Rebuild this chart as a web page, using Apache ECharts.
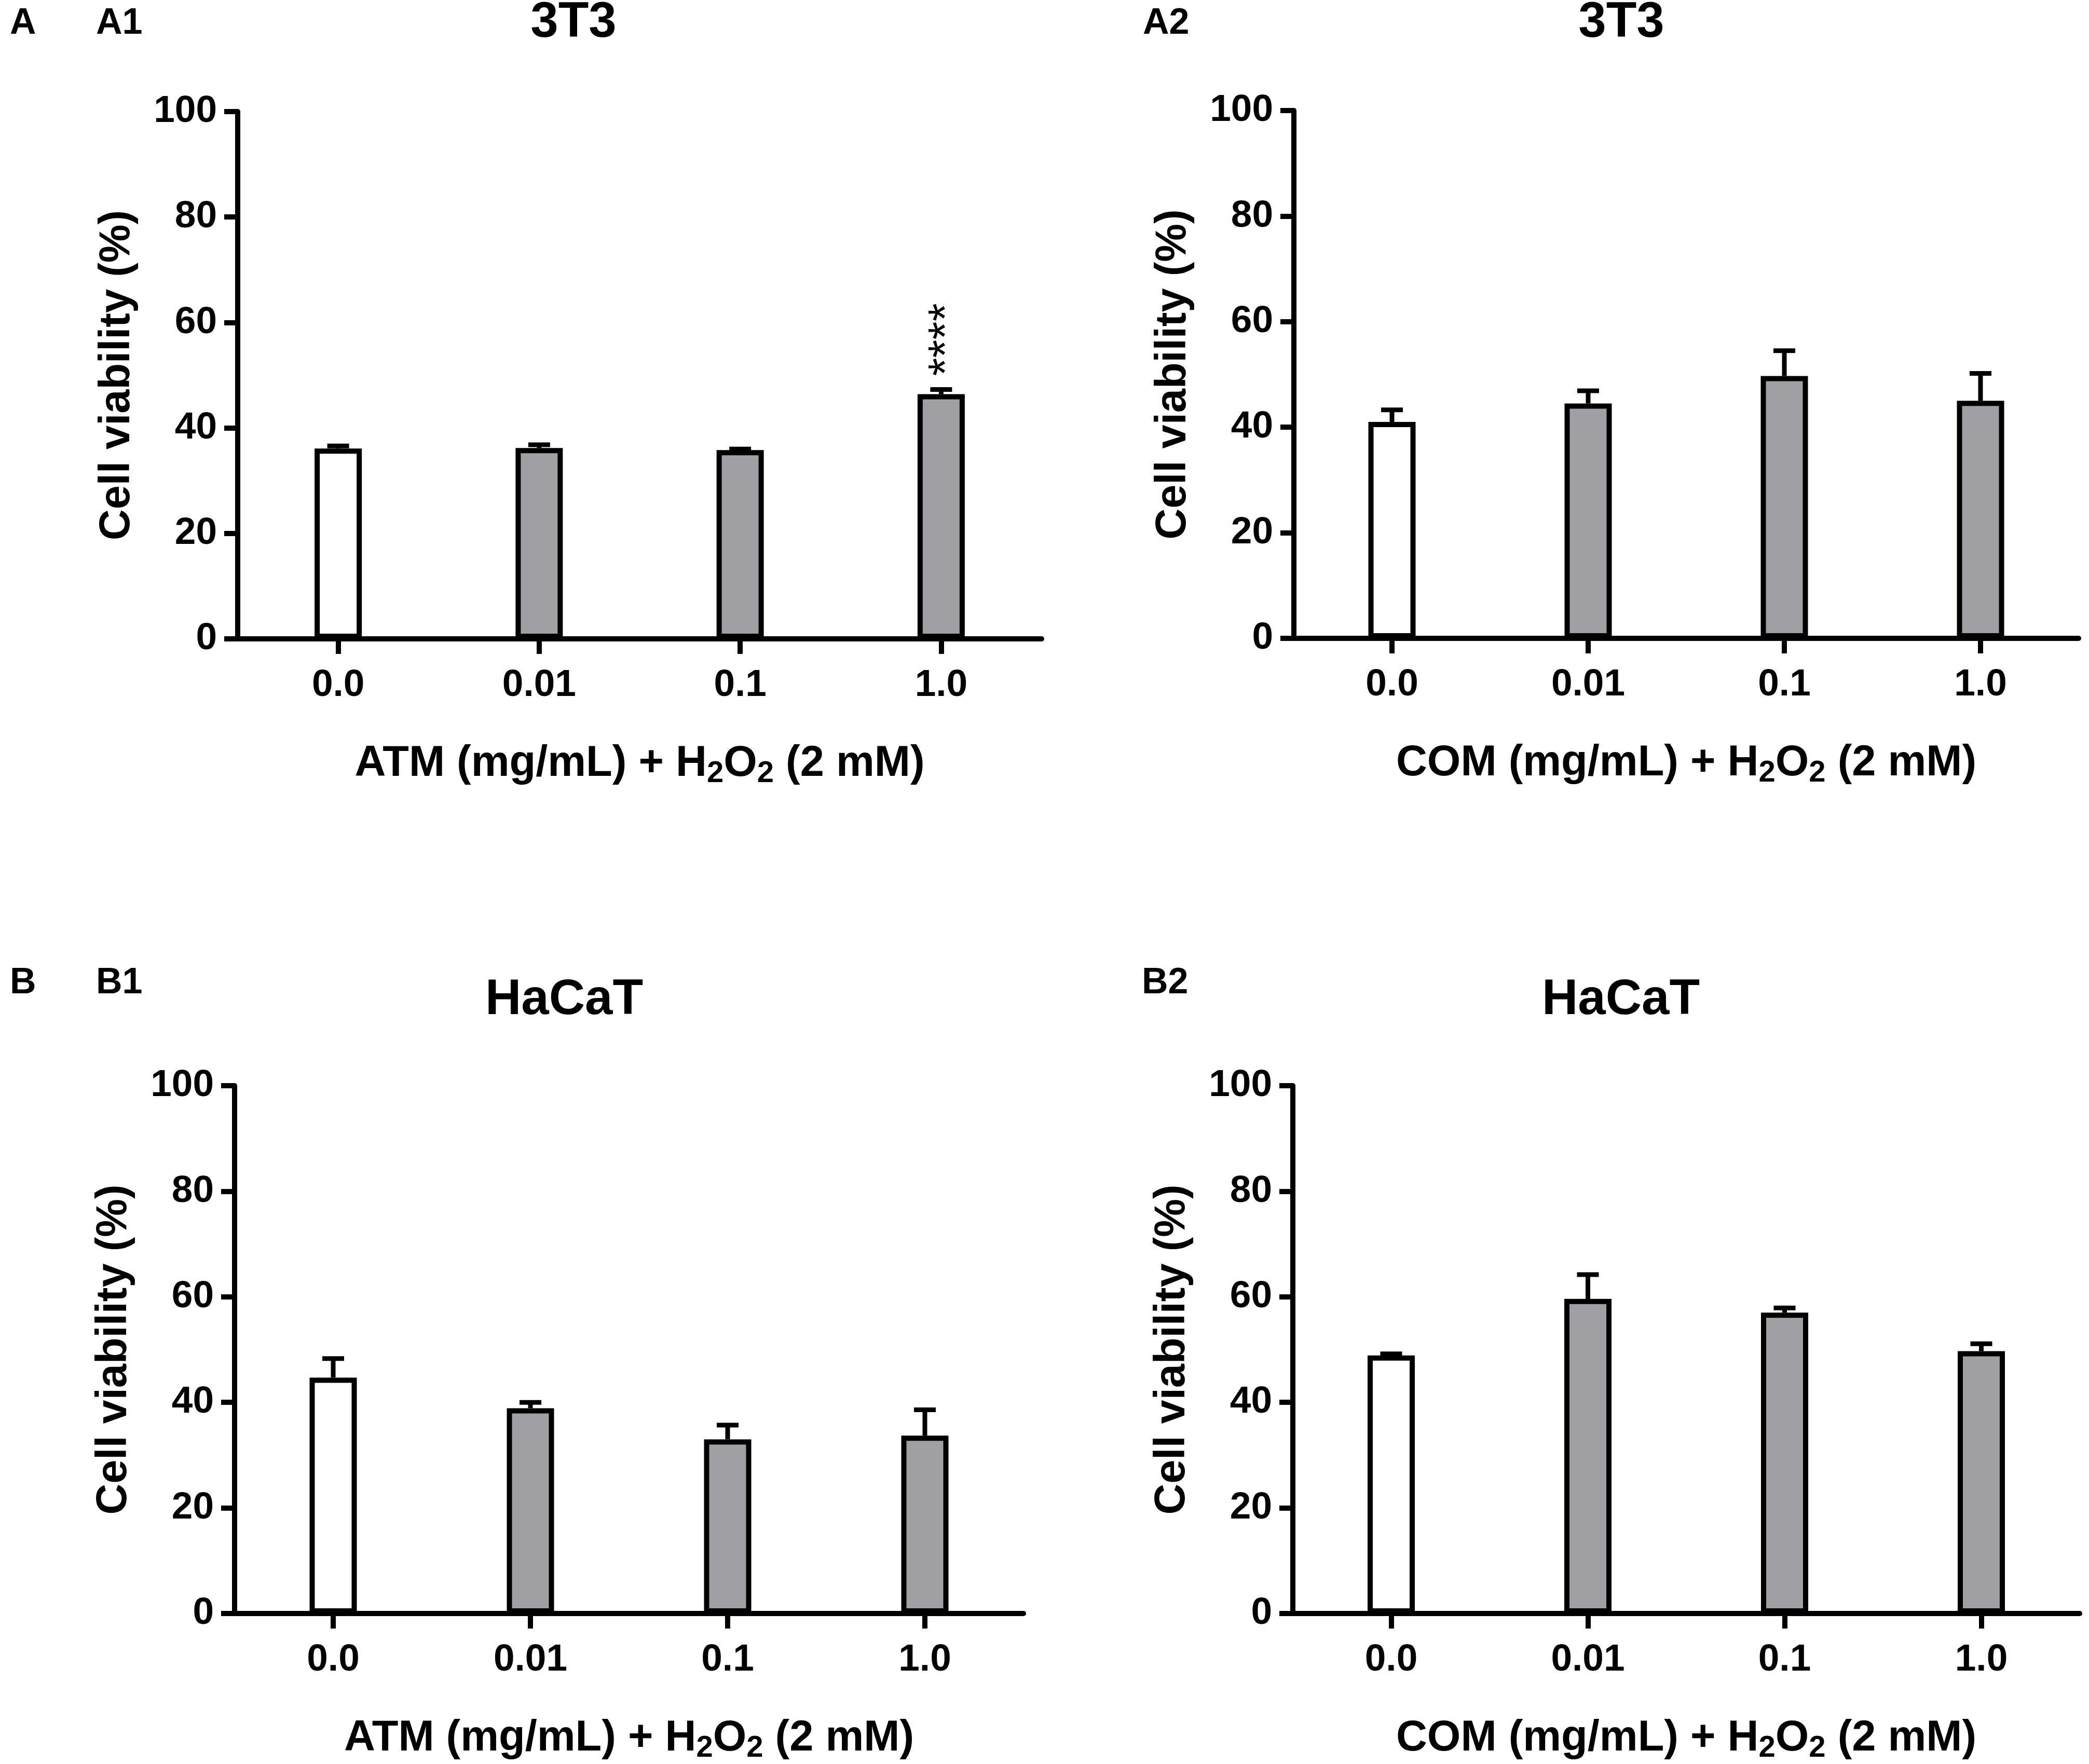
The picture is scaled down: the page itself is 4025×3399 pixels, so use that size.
<!DOCTYPE html>
<html><head><meta charset="utf-8">
<script src="https://cdn.jsdelivr.net/npm/echarts@6/dist/echarts.min.js"></script>
<style>html,body{margin:0;padding:0;background:#fff}#c{width:4025px;height:3399px}</style>
</head><body><div id="c"></div>
<script>
// ---- data ----
const categories = ['0.0', '0.01', '0.1', '1.0'];
const yMin = 0, yMax = 100, yInterval = 20;

const a1Mean = [36.1, 36.2, 35.8, 46.4];
const a1Sd   = [0.5, 0.6, 0.2, 0.9];
const a1Sig  = ['', '', '', '****'];

const a2Mean = [41.0, 44.5, 49.7, 45.0];
const a2Sd   = [2.3, 2.4, 4.8, 5.2];
const a2Sig  = ['', '', '', ''];

const b1Mean = [44.7, 38.9, 33.0, 33.7];
const b1Sd   = [3.6, 1.1, 2.7, 4.9];
const b1Sig  = ['', '', '', ''];

const b2Mean = [48.9, 59.6, 57.0, 49.7];
const b2Sd   = [0.3, 4.6, 0.9, 1.4];
const b2Sig  = ['', '', '', ''];

const panelTitles = ['3T3', '3T3', 'HaCaT', 'HaCaT'];
const panelTags = ['A1', 'A2', 'B1', 'B2'];
const rowTags = ['A', 'B'];
const xNames = [
  'ATM (mg/mL) + H{sub|2}O{sub|2} (2 mM)',
  'COM (mg/mL) + H{sub|2}O{sub|2} (2 mM)',
  'ATM (mg/mL) + H{sub|2}O{sub|2} (2 mM)',
  'COM (mg/mL) + H{sub|2}O{sub|2} (2 mM)'
];
const yName = 'Cell viability (%)';

// ---- layout / style ----
const FONT = '"Liberation Sans", Arial, Helvetica, sans-serif';
const grids = [
  {left: 458,  top: 215,  width: 1549, height: 1016},
  {left: 2493, top: 213,  width: 1512, height: 1017},
  {left: 452,  top: 2092, width: 1520, height: 1019},
  {left: 2491, top: 2092, width: 1516, height: 1019}
];
const titlePos = [[1105, 45], [3124, 45], [1087, 1928], [3123, 1928]];
const tagPos = [[185, 46], [2202, 46], [185, 1895], [2200, 1895]];
const rowTagPos = [[19, 46], [19, 1895]];

const means = [a1Mean, a2Mean, b1Mean, b2Mean];
const sds = [a1Sd, a2Sd, b1Sd, b2Sd];
const sigs = [a1Sig, a2Sig, b1Sig, b2Sig];

const GRAY = '#a0a0a4';
const LW = 10;

const option = {
  backgroundColor: '#ffffff',
  animation: false,
  grid: grids.map(g => Object.assign({containLabel: false}, g)),
  xAxis: grids.map((g, i) => ({
    type: 'category', gridIndex: i, data: categories,
    axisLine: {show: true, lineStyle: {color: '#000', width: LW}},
    axisTick: {show: true, alignWithLabel: true, length: 29, lineStyle: {color: '#000', width: LW}},
    axisLabel: {color: '#000', fontSize: 73, fontWeight: 'bold', fontFamily: FONT, margin: 53},
    splitLine: {show: false},
    name: xNames[i], nameLocation: 'middle', nameGap: 193,
    nameTextStyle: {
      color: '#000', fontSize: 83, fontWeight: 'bold', fontFamily: FONT, lineHeight: 96,
      rich: {sub: {fontSize: 58, fontWeight: 'bold', fontFamily: FONT, color: '#000', lineHeight: 52, verticalAlign: 'bottom'}}
    }
  })),
  yAxis: grids.map((g, i) => ({
    type: 'value', gridIndex: i, min: yMin, max: yMax, interval: yInterval,
    axisLine: {show: true, lineStyle: {color: '#000', width: LW}},
    axisTick: {show: true, length: 26, lineStyle: {color: '#000', width: LW}},
    axisLabel: {color: '#000', fontSize: 73, fontWeight: 'bold', fontFamily: FONT, margin: 40},
    splitLine: {show: false},
    name: yName, nameLocation: 'middle', nameGap: 190,
    nameTextStyle: {color: '#000', fontSize: 83, fontWeight: 'bold', fontFamily: FONT}
  })),
  graphic: [],
  series: []
};

grids.forEach((g, i) => {
  option.series.push({
    type: 'bar', xAxisIndex: i, yAxisIndex: i,
    data: means[i], barWidth: 91,
    itemStyle: {
      color: p => (p.dataIndex === 0 ? '#ffffff' : GRAY),
      borderColor: '#000', borderWidth: 10
    },
    z: 2
  });
  const sdArr = sds[i], sigArr = sigs[i];
  option.series.push({
    type: 'custom', xAxisIndex: i, yAxisIndex: i, z: 3,
    data: categories.map((c, j) => [j, means[i][j], sdArr[j]]),
    encode: {x: 0, y: 1},
    renderItem: (params, api) => {
      const x = api.value(0), m = api.value(1), sd = api.value(2);
      const p0 = api.coord([x, m]);
      const p1 = api.coord([x, m + sd]);
      const half = 21;
      const children = [
        {type: 'line', shape: {x1: p0[0], y1: p0[1], x2: p1[0], y2: p1[1]}, style: {stroke: '#000', lineWidth: 9}},
        {type: 'line', shape: {x1: p1[0] - half, y1: p1[1], x2: p1[0] + half, y2: p1[1]}, style: {stroke: '#000', lineWidth: 9}}
      ];
      const sig = sigArr[params.dataIndex];
      if (sig) {
        children.push({
          type: 'text', x: p1[0] + 14, y: p1[1] - 26, rotation: Math.PI / 2,
          style: {text: sig, fontSize: 90, fontFamily: FONT, fill: '#000', align: 'left', verticalAlign: 'middle'}
        });
      }
      return {type: 'group', children};
    }
  });
  option.graphic.push({
    type: 'text', x: titlePos[i][0], y: titlePos[i][1],
    style: {text: panelTitles[i], fontSize: 96, fontWeight: 'bold', fontFamily: FONT, fill: '#000', align: 'center', verticalAlign: 'middle'}
  });
  option.graphic.push({
    type: 'text', x: tagPos[i][0], y: tagPos[i][1],
    style: {text: panelTags[i], fontSize: 70, fontWeight: 'bold', fontFamily: FONT, fill: '#000', align: 'left', verticalAlign: 'middle'}
  });
});
rowTags.forEach((t, k) => {
  option.graphic.push({
    type: 'text', x: rowTagPos[k][0], y: rowTagPos[k][1],
    style: {text: t, fontSize: 70, fontWeight: 'bold', fontFamily: FONT, fill: '#000', align: 'left', verticalAlign: 'middle'}
  });
});

const chart = echarts.init(document.getElementById('c'), null, {renderer: 'canvas', width: 4025, height: 3399});
chart.setOption(option);
</script>
</body></html>
